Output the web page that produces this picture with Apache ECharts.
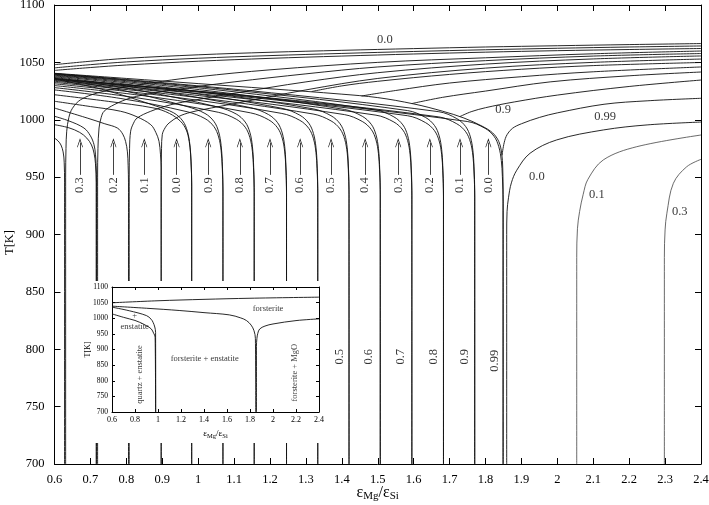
<!DOCTYPE html>
<html lang="en">
<head>
  <meta charset="UTF-8">
  <title>Mg/Si condensation sequences</title>
  <script src="https://cdn.jsdelivr.net/npm/echarts@6/dist/echarts.min.js"></script>
  <style>
    body { margin: 0; background: #fff; }
    #chart { width: 709px; height: 505px; }
  </style>
</head>
<body>
<div id="chart"></div>
<script>
  // forsterite onset lines that start at the left edge
  const onsetLeft = [
    [[0.6,1048],[0.7,1051],[0.8,1053.5],[1.0,1056.6],[1.2,1058.8],[1.4,1060.5],[1.6,1062],[1.8,1063.4],[2.0,1064.5],[2.2,1065.5],[2.4,1066.4]],
    [[0.6,1045.2],[0.7,1048],[0.8,1050.4],[1.0,1053.6],[1.2,1055.9],[1.4,1057.8],[1.6,1059.5],[1.8,1061],[2.0,1062.3],[2.2,1063.4],[2.4,1064.3]],
    [[0.6,1043],[0.7,1045.5],[0.8,1047.7],[1.0,1051],[1.2,1053.5],[1.4,1055.5],[1.6,1057.3],[1.8,1058.9],[2.0,1060.2],[2.2,1061.2],[2.4,1062.1]]
  ];

  // onset lines rising out of the left verticals
  const onsetArcs = [
    [[0.631,700],[0.631,950],[0.632,975],[0.634,990],[0.64,1002],[0.65,1010],[0.673,1017.5],[0.719,1023.3],[0.784,1027.7],[0.9,1033.5],[1.0,1037.5],[1.2,1043.5],[1.5,1050],[1.8,1054],[2.1,1057.5],[2.4,1059.9]],
    [[0.72,700],[0.72,950],[0.721,975],[0.724,992.8],[0.73,1002],[0.738,1007.4],[0.766,1013.1],[0.812,1019],[0.877,1023.3],[0.97,1027.7],[1.1,1033],[1.3,1040],[1.5,1046],[1.8,1051.5],[2.1,1055.5],[2.4,1057.7]],
    [[0.808,700],[0.808,950],[0.809,975],[0.812,990],[0.82,997],[0.83,1001.5],[0.868,1007.4],[0.924,1013.1],[0.988,1017],[1.1,1023],[1.3,1033],[1.5,1041],[1.8,1048.5],[2.1,1053],[2.4,1055.6]],
    [[0.897,700],[0.897,950],[0.898,975],[0.9,987],[0.908,993],[0.919,997.2],[0.947,1003],[0.979,1006.5],[1.016,1009],[1.1,1014],[1.3,1026],[1.5,1036],[1.8,1045],[2.1,1050],[2.4,1052.9]]
  ];

  // onset lines branching off the 0.0 enstatite boundary
  const onsetBranches = [
    [[1.316,1024.6],[1.4,1029.5],[1.5,1033.5],[1.7,1039.5],[1.9,1044],[2.1,1047.2],[2.4,1049.9]],
    [[1.455,1020.7],[1.55,1025.5],[1.7,1032],[1.9,1037.5],[2.1,1041.8],[2.4,1046]],
    [[1.595,1014.1],[1.68,1019.5],[1.8,1025],[1.98,1033],[2.2,1038.3],[2.4,1041.6]],
    [[1.729,1002.8],[1.76,1007],[1.8,1010.5],[1.88,1015.5],[2.0,1021.5],[2.2,1029],[2.4,1034.6]],
    [[1.846,969],[1.852,980],[1.86,987],[1.875,992.5],[1.9,996.5],[1.95,1002],[2.0,1006],[2.13,1013.5],[2.25,1016.5],[2.4,1018.7]]
  ];

  const enstatite0 = [[0.6,1040.5],[0.8,1036],[1.0,1031.5],[1.2,1027],[1.4,1022.3],[1.5,1019.3],[1.6,1013.8],[1.68,1007.5],[1.74,1001.5],[1.79,994.5],[1.82,988.5],[1.837,981],[1.845,971],[1.848,958],[1.849,935],[1.849,700]];

  // falling boundaries ending in the left verticals
  const descLeft = [
    [[0.6,984],[0.61,981.5],[0.618,978],[0.624,972],[0.627,963],[0.628,945],[0.628,700]],
    [[0.6,995.7],[0.64,993],[0.67,989],[0.69,984],[0.703,978],[0.71,971],[0.714,962],[0.716,945],[0.716,700]],
    [[0.6,1003],[0.64,999],[0.682,992.8],[0.7,986],[0.71,978.3],[0.714,970],[0.716,960],[0.717,945],[0.717,700]],
    [[0.6,1010.2],[0.691,1001.5],[0.74,996.5],[0.775,992.8],[0.79,987.5],[0.798,981],[0.803,972],[0.805,960],[0.806,945],[0.806,700]],
    [[0.6,1016.1],[0.7,1011.5],[0.784,1007.4],[0.83,1002.5],[0.868,995.7],[0.882,989],[0.891,981.2],[0.895,970],[0.897,958],[0.897,945],[0.897,700]],
    [[0.6,1021.8],[0.75,1016],[0.877,1010.2],[0.92,1005.5],[0.951,998.6],[0.967,991],[0.975,981.2],[0.979,970],[0.981,958],[0.982,945],[0.982,700]]
  ];

  const descUpper = [
    [[0.6,1035.5],[0.741,1025.8],[0.882,1012],[0.932,1006],[0.957,999],[0.970,990],[0.977,978],[0.980,964],[0.982,942],[0.982,700]],
    [[0.6,1036.2],[0.785,1025.9],[0.969,1011.5],[1.019,1005.5],[1.044,998.5],[1.057,989.5],[1.064,977.5],[1.067,963.5],[1.069,941.5],[1.069,700]],
    [[0.6,1036.9],[0.828,1026],[1.056,1011],[1.106,1005],[1.131,998],[1.144,989],[1.151,977],[1.154,963],[1.156,941],[1.156,700]],
    [[0.6,1037.6],[0.873,1026],[1.146,1010.5],[1.196,1004.5],[1.221,997.5],[1.234,988.5],[1.241,976.5],[1.244,962.5],[1.246,940.5],[1.246,700]],
    [[0.6,1038.3],[0.917,1026.2],[1.233,1010],[1.283,1004],[1.308,997],[1.321,988],[1.328,976],[1.331,962],[1.333,940],[1.333,700]],
    [[0.6,1038.9],[0.96,1026.2],[1.32,1009.5],[1.37,1003.5],[1.395,996.5],[1.408,987.5],[1.415,975.5],[1.418,961.5],[1.42,939.5],[1.42,700]],
    [[0.6,1039.4],[1.004,1026.2],[1.407,1009],[1.457,1003],[1.482,996],[1.495,987],[1.502,975],[1.505,961],[1.507,939],[1.507,700]],
    [[0.6,1039.8],[1.048,1026.2],[1.495,1008.5],[1.545,1002.5],[1.57,995.5],[1.583,986.5],[1.59,974.5],[1.593,960.5],[1.595,938.5],[1.595,700]],
    [[0.6,1040.1],[1.092,1026],[1.583,1008],[1.633,1002],[1.658,995],[1.671,986],[1.678,974],[1.681,960],[1.683,938],[1.683,700]],
    [[0.6,1040.3],[1.135,1025.6],[1.67,1007],[1.72,1001],[1.745,994],[1.758,985],[1.765,973],[1.768,959],[1.77,937],[1.77,700]]
  ];

  const descLower = [
    [[0.6,1026],[0.785,1018.5],[0.969,1007],[1.019,1001],[1.044,994],[1.057,985],[1.064,973],[1.067,959],[1.069,937],[1.069,700]],
    [[0.6,1028],[0.828,1019.2],[1.056,1006.5],[1.106,1000.5],[1.131,993.5],[1.144,984.5],[1.151,972.5],[1.154,958.5],[1.156,936.5],[1.156,700]],
    [[0.6,1029.8],[0.873,1019.9],[1.146,1006],[1.196,1000],[1.221,993],[1.234,984],[1.241,972],[1.244,958],[1.246,936],[1.246,700]],
    [[0.6,1031.3],[0.917,1020.4],[1.233,1005.5],[1.283,999.5],[1.308,992.5],[1.321,983.5],[1.328,971.5],[1.331,957.5],[1.333,935.5],[1.333,700]],
    [[0.6,1032.5],[0.96,1020.8],[1.32,1005],[1.37,999],[1.395,992],[1.408,983],[1.415,971],[1.418,957],[1.42,935],[1.42,700]],
    [[0.6,1033.5],[1.004,1021],[1.407,1004.5],[1.457,998.5],[1.482,991.5],[1.495,982.5],[1.502,970.5],[1.505,956.5],[1.507,934.5],[1.507,700]],
    [[0.6,1034.3],[1.048,1021.2],[1.495,1004],[1.545,998],[1.57,991],[1.583,982],[1.59,970],[1.593,956],[1.595,934],[1.595,700]],
    [[0.6,1035],[1.092,1021.2],[1.583,1003.5],[1.633,997.5],[1.658,990.5],[1.671,981.5],[1.678,969.5],[1.681,955.5],[1.683,933.5],[1.683,700]],
    [[0.6,1035.5],[1.135,1021],[1.67,1002.5],[1.72,996.5],[1.745,989.5],[1.758,980.5],[1.765,968.5],[1.768,954.5],[1.77,932.5],[1.77,700]],
    [[0.6,1036],[1.175,1019.3],[1.749,998.5],[1.799,992.5],[1.824,985.5],[1.837,976.5],[1.844,964.5],[1.847,950.5],[1.849,928.5],[1.849,700]]
  ];

  // MgO boundaries on the right (0.0, 0.1, 0.3)
  const mgoLines = [
    [[1.859,700],[1.859,900],[1.86,920],[1.864,932],[1.872,945],[1.887,956],[1.924,970.8],[1.998,982.4],[2.128,991.1],[2.25,995.5],[2.4,998]],
    [[2.054,700],[2.054,880],[2.056,905],[2.062,920],[2.072,935],[2.085,948],[2.128,965],[2.221,976.5],[2.4,986.7]],
    [[2.298,700],[2.298,880],[2.3,904],[2.305,918.5],[2.323,944.6],[2.36,959],[2.4,965.5]]
  ];

  const arrowX = [0.671,0.764,0.850,0.940,1.028,1.116,1.200,1.284,1.370,1.465,1.557,1.645,1.729,1.808];
  const arrowText = ['0.3','0.2','0.1','0.0','0.9','0.8','0.7','0.6','0.5','0.4','0.3','0.2','0.1','0.0'];
  const lowerX = [1.395,1.476,1.564,1.655,1.743,1.826];
  const lowerText = ['0.5','0.6','0.7','0.8','0.9','0.99'];
  const tagX = [1.52,1.849,2.133,1.943,2.11,2.341];
  const tagT = [1070,1008.5,1002.7,950,935,920];
  const tagText = ['0.0','0.9','0.99','0.0','0.1','0.3'];

  // inset: the 0.0 case
  const insetOnset = [[0.6,1049.5],[1.0,1056],[1.4,1060.5],[1.8,1064],[2.4,1067.5]];
  const insetEnstatite = [[0.6,1038.7],[0.9,1032],[1.19,1024.7],[1.4,1018],[1.62,1010.8],[1.72,1001],[1.77,992.5],[1.81,978],[1.835,960],[1.847,935],[1.85,700]];
  const insetMgO = [[1.856,700],[1.856,910],[1.86,935],[1.868,952],[1.884,965.6],[1.93,975],[2.0,981.7],[2.2,992.5],[2.4,998]];
  const insetQuartzA = [[0.6,1035.5],[0.75,1024],[0.9,1008.5],[0.94,997],[0.957,987],[0.972,972],[0.979,955],[0.98,700]];
  const insetQuartzB = [[0.6,1014],[0.7,1003],[0.8,993],[0.841,987],[0.9,976],[0.942,965.6],[0.962,952],[0.975,940],[0.979,700]];
  const insetText = ['forsterite','enstatite','+','forsterite + enstatite'];
  const insetTextX = [1.957,0.797,0.797,1.406];
  const insetTextT = [1030,974,1006.5,869];
  const insetSideText = ['quartz + enstatite','forsterite + MgO'];
  const insetSideX = [0.841,2.188];
  const insetSideT = [820,826];

  const serif = 'Liberation Serif';
  const chart = echarts.init(document.getElementById('chart'));

  function curve(points, axis, color, width) {
    return {
      type: 'line', data: points, xAxisIndex: axis, yAxisIndex: axis,
      showSymbol: false, symbol: 'none', smooth: 0.35, silent: true,
      lineStyle: { color: color || '#111', width: width || 0.9 },
      z: axis ? 60 : 2
    };
  }

  function textSeries(axis, items, size, rotate) {
    return {
      type: 'scatter', xAxisIndex: axis, yAxisIndex: axis, silent: true,
      symbolSize: 1, itemStyle: { color: 'rgba(0,0,0,0)' }, z: 70,
      data: items,
      label: {
        show: true, position: 'inside', formatter: '{b}', color: '#000',
        fontFamily: serif, fontSize: size, rotate: rotate || 0
      }
    };
  }

  function xAxis(grid, pos, small) {
    return {
      type: 'value', gridIndex: grid, position: pos, min: 0.6, max: 2.4,
      interval: small ? 0.2 : 0.1, z: small ? 60 : 0, nameMoveOverlap: false,
      axisLine: { onZero: false, lineStyle: { color: '#000', width: 1 } },
      axisTick: { inside: true, length: small ? 3 : 6, lineStyle: { color: '#000' } },
      axisLabel: { show: pos === 'bottom', color: '#000', fontFamily: serif,
        fontSize: small ? 8 : 12.5, margin: small ? 4 : 9,
        formatter: function (v) { return String(+v.toFixed(2)); } },
      splitLine: { show: false }
    };
  }

  function yAxis(grid, pos, small) {
    return {
      type: 'value', gridIndex: grid, position: pos, min: 700, max: 1100,
      interval: 50, z: small ? 60 : 0, nameMoveOverlap: false,
      axisLine: { onZero: false, lineStyle: { color: '#000', width: 1 } },
      axisTick: { inside: true, length: small ? 3 : 6, lineStyle: { color: '#000' } },
      axisLabel: { show: pos === 'left', color: '#000', fontFamily: serif,
        fontSize: small ? 7.5 : 12.5, margin: small ? 4 : 10,
        formatter: function (v) { return String(v); } },
      splitLine: { show: false }
    };
  }

  const xMain = xAxis(0, 'bottom', false);
  xMain.name = '{e|ε}{s|Mg}{e|/ε}{s|Si}';
  xMain.nameLocation = 'middle';
  xMain.nameGap = 19;
  xMain.nameTextStyle = { rich: {
    e: { fontFamily: serif, fontSize: 16, color: '#000' },
    s: { fontFamily: serif, fontSize: 11, color: '#000', padding: [8, 0, 0, 0] }
  } };
  const xInset = xAxis(1, 'bottom', true);
  xInset.name = '{e|ε}{s|Mg}{e|/ε}{s|Si}';
  xInset.nameLocation = 'middle';
  xInset.nameGap = 16;
  xInset.nameTextStyle = { rich: {
    e: { fontFamily: serif, fontSize: 9, color: '#000' },
    s: { fontFamily: serif, fontSize: 6.5, color: '#000', padding: [5, 0, 0, 0] }
  } };
  const yMain = yAxis(0, 'left', false);
  yMain.name = 'T[K]';
  yMain.nameLocation = 'middle';
  yMain.nameGap = 38;
  yMain.nameRotate = 90;
  yMain.nameTextStyle = { fontFamily: serif, fontSize: 12.5, color: '#000', padding: [0, 16, 0, 0] };
  const yInset = yAxis(1, 'left', true);
  yInset.name = 'T[K]';
  yInset.nameLocation = 'middle';
  yInset.nameGap = 20;
  yInset.nameRotate = 90;
  yInset.nameTextStyle = { fontFamily: serif, fontSize: 8, color: '#000' };

  const series = [];
  onsetLeft.concat(onsetArcs, onsetBranches, descLeft, descUpper, descLower, [enstatite0])
    .forEach(function (p) { series.push(curve(p, 0)); });
  series.push(curve(mgoLines[0], 0));
  series.push(curve(mgoLines[1], 0, '#444', 0.8));
  series.push(curve(mgoLines[2], 0, '#444', 0.8));

  // upward arrows
  series.push({
    type: 'line', data: [], xAxisIndex: 0, yAxisIndex: 0, silent: true,
    markLine: {
      silent: true, animation: false,
      symbol: ['none', 'path://M5,0 L10,12 L9,12 L5,3 L1,12 L0,12 Z'],
      symbolSize: [6, 9],
      label: { show: false },
      lineStyle: { color: '#111', width: 0.8, type: 'solid' },
      data: arrowX.map(function (x) { return [{ coord: [x, 952] }, { coord: [x, 980] }]; })
    }
  });

  series.push(textSeries(0, arrowX.map(function (x, i) {
    return { name: arrowText[i], value: [x, 943] };
  }), 12.5, 90));
  series.push(textSeries(0, lowerX.map(function (x, i) {
    return { name: lowerText[i], value: [x, i === 5 ? 790 : 793.5] };
  }), 12.5, 90));
  series.push(textSeries(0, tagX.map(function (x, i) {
    return { name: tagText[i], value: [x, tagT[i]] };
  }), 12.5, 0));

  [insetOnset, insetEnstatite, insetMgO, insetQuartzA, insetQuartzB]
    .forEach(function (p) { series.push(curve(p, 2)); });
  series.push(textSeries(2, insetText.map(function (t, i) {
    return { name: t, value: [insetTextX[i], insetTextT[i]] };
  }), 8.5, 0));
  series.push(textSeries(2, insetSideText.map(function (t, i) {
    return { name: t, value: [insetSideX[i], insetSideT[i]] };
  }), 8.5, 90));

  chart.setOption({
    animation: false,
    backgroundColor: '#fff',
    grid: [
      { left: 54.5, right: 8, top: 5, bottom: 41, containLabel: false, outerBoundsMode: 'none' },
      { left: 112, top: 287, width: 207, height: 125, containLabel: false, outerBoundsMode: 'none' }
    ],
    xAxis: [xMain, xAxis(0, 'top', false), xInset, xAxis(1, 'top', true)],
    yAxis: [yMain, yAxis(0, 'right', false), yInset, yAxis(1, 'right', true)],
    graphic: { elements: [{
      type: 'rect', z: 50, silent: true,
      shape: { x: 86, y: 281, width: 248, height: 162 },
      style: { fill: '#fff' }
    }] },
    series: series
  });
</script>
</body>
</html>
